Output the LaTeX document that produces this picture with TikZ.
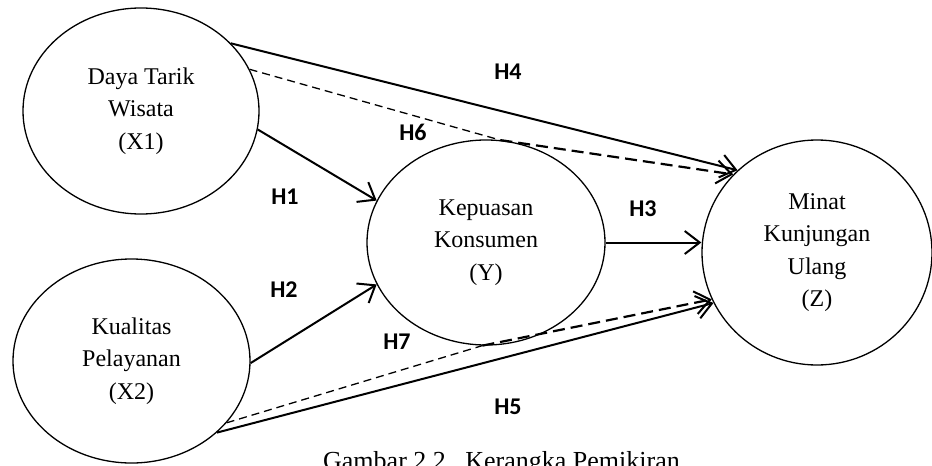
\documentclass[tikz,border=0pt]{standalone}
\usepackage{fontspec}
\setmainfont{Liberation Serif}
\newfontfamily\hfont{Carlito}
\usepackage{tikz}
\usetikzlibrary{arrows.meta,shapes.geometric}
\tikzstyle{vn}=[ellipse,draw=black,line width=1.3pt,align=center,
  inner sep=0pt,font=\fontsize{24}{32.5}\selectfont]
\tikzstyle{hn}=[font=\hfont\bfseries\fontsize{24}{26}\selectfont]
\tikzstyle{arr}=[line width=2pt,
  -{Straight Barb[length=15pt,width=23pt,line width=2pt]}]
\tikzstyle{dl}=[line width=1.3pt,dash pattern=on 8pt off 5pt]
\tikzstyle{dla}=[line width=2.2pt,dash pattern=on 12pt off 6pt,
  -{Straight Barb[length=15pt,width=23pt,line width=2pt]}]
\tikzstyle{none}=[]

\begin{document}
\begin{tikzpicture}[x=1pt,y=-1pt]
            \useasboundingbox (0,0) rectangle (932,466);
            \node [style=vn,minimum width=236pt,minimum height=206pt] (0) at (141,111) {Daya Tarik\\Wisata\\(X1)};
            \node [style=vn,minimum width=237pt,minimum height=204pt] (1) at (131.5,361) {Kualitas\\Pelayanan\\(X2)};
            \node [style=vn,minimum width=238pt,minimum height=205pt] (2) at (486,242.5) {Kepuasan\\Konsumen\\(Y)};
            \node [style=vn,minimum width=230pt,minimum height=225pt] (3) at (817,252.5) {Minat\\Kunjungan\\Ulang\\(Z)};
            \node [style=hn] (4) at (285,197) {H1};
            \node [style=hn] (5) at (284,290) {H2};
            \node [style=hn] (6) at (643,209) {H3};
            \node [style=hn] (7) at (508,72) {H4};
            \node [style=hn] (8) at (508,407) {H5};
            \node [style=hn] (9) at (413,132) {H6};
            \node [style=hn] (10) at (397,342) {H7};
            \node [style=none,anchor=base,font=\fontsize{26}{30}\selectfont] (11) at (501.5,469) {Gambar 2.2.\ \ Kerangka Pemikiran};
            \draw [style=arr] (0.-9) to (2.159.6);
            \draw [style=arr] (1.-1) to (2.201.3);
            \draw [style=arr] (2.east) to (2.east -| 3.west);
            \draw [style=arr] (0.37.8) to (3.134.8);
            \draw [style=arr] (1.-40.1) to (3.206.3);
            \draw [style=dl] (0.21.5) to (2.82);
            \draw [style=dla] (2.82) to (3.137);
            \draw [style=dl] (1.-33.8) to (2.268);
            \draw [style=dla] (2.268) to (3.204.5);
    \end{tikzpicture}
\end{document}
